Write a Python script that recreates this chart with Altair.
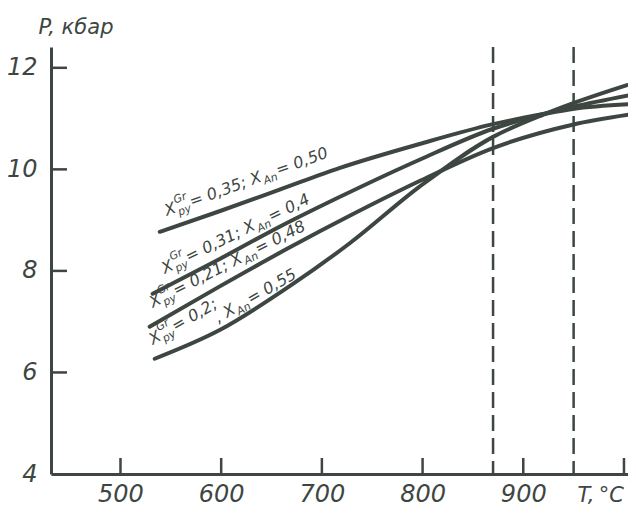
import math
import altair as alt
import pandas as pd

INK = "#3d4641"
FONT = "DejaVu Sans"

# ---- data ----
curve_ids = ["A", "B", "C", "D"]
T_A = [539, 599, 658, 718, 797, 870, 920, 949, 1011]
P_A = [8.77, 9.18, 9.60, 10.03, 10.50, 10.89, 11.09, 11.19, 11.29]
T_B = [532, 599, 658, 718, 797, 870, 920, 949, 1008]
P_B = [7.55, 8.24, 8.87, 9.46, 10.19, 10.80, 11.09, 11.23, 11.47]
T_C = [529, 599, 665, 730, 797, 870, 949, 1009]
P_C = [6.90, 7.70, 8.43, 9.11, 9.77, 10.42, 10.88, 11.09]
T_D = [534, 599, 668, 728, 797, 870, 920, 949, 1003]
P_D = [6.27, 6.84, 7.70, 8.55, 9.66, 10.64, 11.08, 11.30, 11.66]

T_dashed = [870, 950]
x_ticks = [500, 600, 700, 800, 900, 1000]
y_ticks = [4, 6, 8, 10, 12]
y_inner_ticks = [6, 8, 10, 12]

label_py = ["0,35", "0,31", "0,21", "0,2;"]
label_an = ["0,50", "0,4", "0,48", "0,55"]

# ---- build tables ----
rows = []
for cid, Ts, Ps in zip(curve_ids, [T_A, T_B, T_C, T_D], [P_A, P_B, P_C, P_D]):
    for i, (t, p) in enumerate(zip(Ts, Ps)):
        rows.append({"curve": cid, "T": t, "P": p, "i": i})
curves = pd.DataFrame(rows)

# approximate DejaVu Sans advance widths (em)
W = {'X': 0.685, 'p': 0.635, 'y': 0.592, 'G': 0.775, 'r': 0.411, '=': 0.838,
     ',': 0.318, ';': 0.337, ' ': 0.318, 'A': 0.684, 'n': 0.634}
def width(s, size):
    return sum(W.get(c, 0.636) for c in s) * size

MAIN, SMALL = 16, 11

def runs_full(py, an):
    return [("X", MAIN, 0, True), ("py", SMALL, 4, False), ("Gr", SMALL, -9, True),
            ("= " + py + "; X", MAIN, 0, True), ("An", SMALL, 4, True), ("= " + an, MAIN, 0, True)]

def runs_first(py):
    return [("X", MAIN, 0, True), ("py", SMALL, 4, False), ("Gr", SMALL, -9, True),
            ("= " + py, MAIN, 0, True)]

def runs_second(an):
    return [(", X", MAIN, 0, True), ("An", SMALL, 4, True), ("= " + an, MAIN, 0, True)]

# anchors of each label (T, P, rise angle in degrees)
anchors = [
    (546, 9.08, 20, runs_full(label_py[0], label_an[0])),
    (544, 7.94, 26, runs_full(label_py[1], label_an[1])),
    (532, 7.27, 27, runs_full(label_py[2], label_an[2])),
    (532, 6.54, 30, runs_first(label_py[3])),
    (597, 6.97, 30, runs_second(label_an[3])),
]

pieces = []
for T0, P0, th, runs in anchors:
    dx = 0.0
    prev_w = 0.0
    for text, size, dy, advance in runs:
        w = width(text, size)
        pieces.append({"T": T0, "P": P0, "text": text, "size": size,
                       "angle": 360 - th, "dx": dx, "dy": dy})
        if advance:
            dx += max(w, prev_w) + 1
            prev_w = 0.0
        else:
            prev_w = w

# ---- scales / axes ----
xs = alt.Scale(domain=[431, 1004], nice=False, zero=False)
ys = alt.Scale(domain=[4, 12.41], nice=False, zero=False)

xaxis = alt.Axis(values=x_ticks, labelExpr="datum.value == 1000 ? '' : datum.label",
                 ticks=False, grid=False, domainColor=INK, domainWidth=3,
                 labelFont=FONT, labelFontStyle="italic", labelFontSize=24,
                 labelColor=INK, labelPadding=27, labelBaseline="alphabetic",
                 labelFlush=False, labelOverlap=False,
                 title="T,\u2009°C", titleX=526, titleY=27, titleAlign="left",
                 titleBaseline="alphabetic", titleFont=FONT, titleFontStyle="italic",
                 titleFontWeight="normal", titleFontSize=21, titleColor=INK)
yaxis = alt.Axis(values=y_ticks, ticks=False, grid=False, domainColor=INK, domainWidth=3,
                 labelFont=FONT, labelFontStyle="italic", labelFontSize=24,
                 labelColor=INK, labelPadding=14, labelBaseline="middle",
                 labelOverlap=False,
                 title="P, кбар", titleAngle=0, titleX=-13, titleY=-14, titleAlign="left",
                 titleBaseline="alphabetic", titleFont=FONT, titleFontStyle="italic",
                 titleFontWeight="normal", titleFontSize=21, titleColor=INK)

H = 427

lines = alt.Chart(curves).mark_line(
    interpolate="monotone", strokeWidth=4, strokeCap="round", color=INK, clip=True
).encode(
    x=alt.X("T:Q", scale=xs, axis=xaxis),
    y=alt.Y("P:Q", scale=ys, axis=yaxis),
    detail="curve:N",
    order="i:Q",
)

dashed = alt.Chart(pd.DataFrame({"T": T_dashed})).mark_rule(
    strokeDash=[16, 7], strokeWidth=2.5, color=INK
).encode(x=alt.X("T:Q", scale=xs, axis=xaxis))

xt = alt.Chart(pd.DataFrame({"T": x_ticks})).mark_rule(strokeWidth=2.5, color=INK).encode(
    x=alt.X("T:Q", scale=xs, axis=xaxis), y=alt.value(H), y2=alt.value(H - 16))

yt = alt.Chart(pd.DataFrame({"P": y_inner_ticks})).mark_rule(strokeWidth=2.5, color=INK).encode(
    y=alt.Y("P:Q", scale=ys, axis=yaxis), x=alt.value(0), x2=alt.value(16))

text_layers = []
for pc in pieces:
    text_layers.append(
        alt.Chart(pd.DataFrame([{"T": pc["T"], "P": pc["P"], "text": pc["text"]}])).mark_text(
            align="left", baseline="alphabetic", font=FONT, fontStyle="italic", color=INK,
            fontSize=pc["size"], angle=pc["angle"], dx=pc["dx"], dy=pc["dy"]
        ).encode(
            x=alt.X("T:Q", scale=xs, axis=xaxis),
            y=alt.Y("P:Q", scale=ys, axis=yaxis),
            text="text:N",
        )
    )

chart = alt.layer(dashed, xt, yt, lines, *text_layers).properties(
    width=577, height=H,
    autosize=alt.AutoSizeParams(type="none"),
    padding={"left": 43, "top": 39, "right": 0, "bottom": 33},
    background="white",
).configure_view(stroke=None)

chart.save("out.html", embed_options={"renderer": "svg", "actions": False})
